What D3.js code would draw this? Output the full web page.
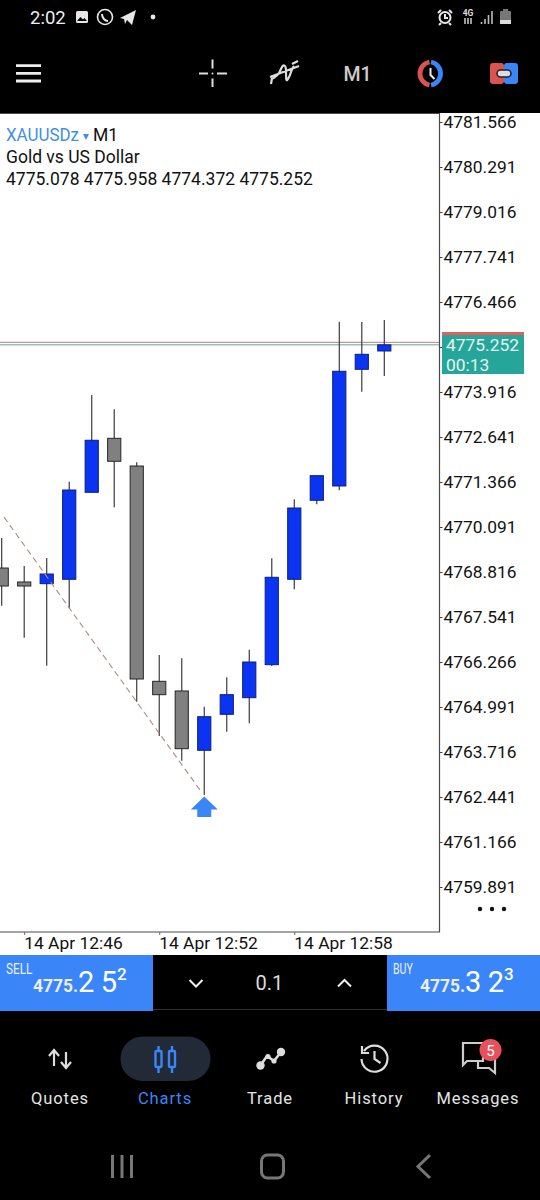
<!DOCTYPE html>
<html>
<head>
<meta charset="utf-8">
<script src="https://cdnjs.cloudflare.com/ajax/libs/d3/7.8.5/d3.min.js"></script>
<style>
  html, body { margin: 0; padding: 0; background: #000; overflow: hidden; }
  svg { display: block; }
  text { font-family: Roboto, sans-serif; }
</style>
</head>
<body>
<div id="chart"></div>
<script>
// candles, oldest first
var opens  = [4768.929, 4768.533, 4768.485, 4768.609, 4771.074, 4772.604, 4771.819, 4765.719, 4765.445, 4763.764, 4764.784, 4765.255, 4766.190, 4768.609, 4770.848, 4771.253, 4774.559, 4775.078];
var highs  = [4769.779, 4768.986, 4769.213, 4771.375, 4773.831, 4773.426, 4771.924, 4766.465, 4766.371, 4765.000, 4765.833, 4766.615, 4769.204, 4770.876, 4771.545, 4775.908, 4775.899, 4775.958];
var lows   = [4767.861, 4766.955, 4766.161, 4767.787, 4771.074, 4770.649, 4765.141, 4764.169, 4763.470, 4762.498, 4764.291, 4764.529, 4766.153, 4768.326, 4770.734, 4771.131, 4773.925, 4774.372];
var closes = [4768.419, 4768.419, 4768.759, 4771.139, 4772.548, 4771.953, 4765.784, 4765.340, 4763.810, 4764.716, 4765.340, 4766.266, 4768.666, 4770.629, 4771.545, 4774.503, 4774.984, 4775.252];

var priceTicks = [4781.566, 4780.291, 4779.016, 4777.741, 4776.466, 4775.191, 4773.916, 4772.641, 4771.366, 4770.091, 4768.816, 4767.541, 4766.266, 4764.991, 4763.716, 4762.441, 4761.166, 4759.891];
var timeTickIndex = [1, 7, 13];
var timeTickLabels = ["14 Apr 12:46", "14 Apr 12:52", "14 Apr 12:58"];

var bid = 4775.252;
var ask = 4775.323;
var trendIndex = [0.1, 8.9];
var trendPrice = [4770.374, 4762.56];
var arrowIndex = 9;

var BLUE = "#3a86f8";

var svg = d3.select("#chart").append("svg")
  .attr("width", 540)
  .attr("height", 1200)
  .style("background", "#000");

var xScale = d3.scaleLinear().domain([0, 17]).range([1.7, 384.3]);
var yScale = d3.scaleLinear().domain([4781.566, 4759.891]).range([122, 887]);

// chart pane
svg.append("rect").attr("x", 0).attr("y", 113).attr("width", 540).attr("height", 842).attr("fill", "#fff");
svg.append("path").attr("d", "M0,113.5H439.5V932H0").attr("fill", "none").attr("stroke", "#4a4a4a").attr("stroke-width", 1.2);

// axes
var yAxis = d3.axisRight(yScale)
  .tickValues(priceTicks)
  .tickFormat(d3.format(".3f"))
  .tickSize(3)
  .tickPadding(1);

var yAxisGroup = svg.append("g")
  .attr("transform", "translate(439.5,0)")
  .call(yAxis);
yAxisGroup.select(".domain").remove();
yAxisGroup.selectAll("text").style("font-size", "17.4px").attr("fill", "#111");
yAxisGroup.selectAll("line").attr("stroke", "#444");

var xAxis = d3.axisBottom(xScale)
  .tickValues(timeTickIndex)
  .tickFormat(function (d, i) { return timeTickLabels[i]; })
  .tickSize(3)
  .tickPadding(2);

var xAxisGroup = svg.append("g")
  .attr("transform", "translate(0,932)")
  .call(xAxis);
xAxisGroup.select(".domain").remove();
xAxisGroup.selectAll("text")
  .attr("text-anchor", "start")
  .attr("dx", -0.5)
  .style("font-size", "17.4px")
  .attr("fill", "#111");
xAxisGroup.selectAll("line").attr("stroke", "#666");

// bid and ask lines
svg.append("line")
  .attr("x1", 0).attr("x2", 439)
  .attr("y1", yScale(ask)).attr("y2", yScale(ask))
  .attr("stroke", "#b87f7b").attr("stroke-width", 1);
svg.append("line")
  .attr("x1", 0).attr("x2", 439)
  .attr("y1", yScale(bid)).attr("y2", yScale(bid))
  .attr("stroke", "#5fa39d").attr("stroke-width", 1);

// candles
var candles = opens.map(function (o, i) {
  return { i: i, open: o, high: highs[i], low: lows[i], close: closes[i] };
});

var candleGroup = svg.append("g");

candleGroup.selectAll("line.wick")
  .data(candles)
  .enter()
  .append("line")
  .attr("class", "wick")
  .attr("x1", function (d) { return xScale(d.i); })
  .attr("x2", function (d) { return xScale(d.i); })
  .attr("y1", function (d) { return yScale(d.high); })
  .attr("y2", function (d) { return yScale(d.low); })
  .attr("stroke", "#3c3c3c")
  .attr("stroke-width", 1.2);

candleGroup.selectAll("rect.body")
  .data(candles)
  .enter()
  .append("rect")
  .attr("class", "body")
  .attr("x", function (d) { return xScale(d.i) - 6.6; })
  .attr("width", 13.2)
  .attr("y", function (d) { return yScale(Math.max(d.open, d.close)); })
  .attr("height", function (d) { return Math.abs(yScale(d.open) - yScale(d.close)); })
  .attr("fill", function (d) { return d.close >= d.open ? "#0a33f2" : "#808080"; })
  .attr("stroke", function (d) { return d.close >= d.open ? "#0a1f80" : "#262626"; })
  .attr("stroke-width", 1);

// trend line
svg.append("line")
  .attr("x1", xScale(trendIndex[0])).attr("y1", yScale(trendPrice[0]))
  .attr("x2", xScale(trendIndex[1])).attr("y2", yScale(trendPrice[1]))
  .attr("stroke", "#b08a86")
  .attr("stroke-width", 1.1)
  .attr("stroke-dasharray", "6,4");

// buy arrow below the low of the marked candle
svg.append("path")
  .attr("transform", "translate(" + xScale(arrowIndex) + ",796.5)")
  .attr("d", "M0,0L13.5,13H7V20.5H-7V13H-13.5Z")
  .attr("fill", BLUE);

// price label
svg.append("rect").attr("x", 442).attr("y", 333).attr("width", 82).attr("height", 41).attr("fill", "#26a69a");
svg.append("rect").attr("x", 442).attr("y", 332).attr("width", 82).attr("height", 3).attr("fill", "#e0605c");
svg.append("text").attr("x", 446).attr("y", 351).attr("fill", "#e6f5f3").style("font-size", "17.4px").text(d3.format(".3f")(bid));
svg.append("text").attr("x", 446).attr("y", 371).attr("fill", "#e6f5f3").style("font-size", "17.4px").text("00:13");

// header text
svg.append("text").attr("x", 6).attr("y", 141).attr("fill", "#3f8fe6")
  .attr("textLength", 73).attr("lengthAdjust", "spacingAndGlyphs")
  .style("font-size", "17.5px").text("XAUUSDz");
svg.append("path").attr("d", "M83,134h6l-3,6z").attr("fill", "#3f8fe6");
svg.append("text").attr("x", 93).attr("y", 141).attr("fill", "#111").style("font-size", "17.5px").text("M1");
svg.append("text").attr("x", 6).attr("y", 163).attr("fill", "#111").style("font-size", "17.5px").text("Gold vs US Dollar");
svg.append("text").attr("x", 6).attr("y", 185).attr("fill", "#111").style("font-size", "17.5px")
  .text([opens[17], highs[17], lows[17], closes[17]].map(d3.format(".3f")).join(" "));

// more dots
svg.selectAll("circle.more")
  .data([480, 492, 504])
  .enter()
  .append("circle")
  .attr("class", "more")
  .attr("cx", function (d) { return d; })
  .attr("cy", 909)
  .attr("r", 2.2)
  .attr("fill", "#111");

// status bar
svg.append("text").attr("x", 30).attr("y", 24).attr("fill", "#eee").style("font-size", "18.5px").text("2:02");
var statusIcons = svg.append("g").attr("fill", "none").attr("stroke", "#e8e8e8").attr("stroke-width", 1.6);
statusIcons.append("rect").attr("x", 76).attr("y", 11).attr("width", 12).attr("height", 12).attr("rx", 1.5).attr("fill", "#e8e8e8").attr("stroke", "none");
statusIcons.append("path").attr("d", "M77,21l3.5,-4l2.5,2.5l1.5,-1.5l2.5,3z").attr("fill", "#000").attr("stroke", "none");
statusIcons.append("circle").attr("cx", 105).attr("cy", 17).attr("r", 7.5);
statusIcons.append("path").attr("d", "M102,14c0,4 3,7 6,7").attr("stroke-width", 2);
statusIcons.append("path").attr("d", "M120,18L136,10L132,25L127,20L125,24L124,19Z").attr("fill", "#e8e8e8").attr("stroke", "none");
statusIcons.append("circle").attr("cx", 153).attr("cy", 17).attr("r", 2.4).attr("fill", "#e8e8e8").attr("stroke", "none");
statusIcons.append("circle").attr("cx", 445).attr("cy", 17.5).attr("r", 5.5).attr("stroke-width", 2);
statusIcons.append("path").attr("d", "M445,14v4h3M438,13l3,-3M452,13l-3,-3M441,23l-2,2M449,23l2,2").attr("stroke-width", 2);
svg.append("text").attr("x", 468).attr("y", 16).attr("text-anchor", "middle").attr("fill", "#ddd").style("font-size", "8.5px").style("font-weight", "700").text("4G");
svg.append("path").attr("d", "M465,18v6M468,24v-6M471,18v6").attr("stroke", "#ddd").attr("stroke-width", 1.4);
svg.append("path").attr("d", "M481.5,24v-2M485,24v-5M488.5,24v-9M492,24v-13").attr("stroke", "#bbb").attr("stroke-width", 1.6);
svg.append("rect").attr("x", 500).attr("y", 11).attr("width", 11).attr("height", 13).attr("rx", 1).attr("fill", "#777");
svg.append("rect").attr("x", 500).attr("y", 20).attr("width", 11).attr("height", 4).attr("fill", "#ddd");
svg.append("rect").attr("x", 503).attr("y", 9).attr("width", 5).attr("height", 2).attr("fill", "#777");

// toolbar
svg.append("path").attr("d", "M16,65.7H41M16,73.3H41M16,81H41").attr("stroke", "#eee").attr("stroke-width", 2.8);
svg.append("path").attr("d", "M199,73.5H208M217,73.5H227M212.5,59.5V68.5M212.5,78.5V87").attr("stroke", "#ddd").attr("stroke-width", 2);
svg.append("circle").attr("cx", 212.5).attr("cy", 73.5).attr("r", 1).attr("fill", "#ddd");
svg.append("path").attr("d", "M271,79c6,-2 8,-5 10,-10c2,-5 5,-5 5,2c0,9 0,12 3,6c2,-3 2,-8 5,-11M271,84l1,-6M270,77L299,66M292,64l6,-3").attr("fill", "none").attr("stroke", "#ddd").attr("stroke-width", 2.2);
svg.append("text").attr("x", 357.5).attr("y", 80.5).attr("text-anchor", "middle").attr("fill", "#ccc").style("font-size", "19.5px").style("font-weight", "500").text("M1");
svg.append("path").attr("d", "M429.5,62A11.7,11.7 0 0 0 429.5,85").attr("fill", "none").attr("stroke", "#d9534f").attr("stroke-width", 4.8);
svg.append("path").attr("d", "M431,62A11.7,11.7 0 0 1 431,85").attr("fill", "none").attr("stroke", BLUE).attr("stroke-width", 4.8);
svg.append("path").attr("d", "M430.5,68V75L434.5,79").attr("fill", "none").attr("stroke", "#eee").attr("stroke-width", 2);
svg.append("rect").attr("x", 490).attr("y", 63).attr("width", 14).attr("height", 21).attr("rx", 3).attr("fill", "#d9534f");
svg.append("rect").attr("x", 504).attr("y", 63).attr("width", 14).attr("height", 21).attr("rx", 3).attr("fill", BLUE);
svg.append("rect").attr("x", 497).attr("y", 70).attr("width", 14).attr("height", 7).attr("rx", 3.5).attr("fill", "#ddd").attr("stroke", "#222").attr("stroke-width", 1.5);

// trade bar
svg.append("rect").attr("x", 0).attr("y", 955).attr("width", 153).attr("height", 56).attr("fill", BLUE);
svg.append("rect").attr("x", 387).attr("y", 955).attr("width", 153).attr("height", 56).attr("fill", BLUE);
svg.append("line").attr("x1", 153).attr("x2", 387).attr("y1", 1009.5).attr("y2", 1009.5).attr("stroke", "#333");
svg.append("path").attr("d", "M189.5,980L196,986.5L202.5,980M338,986.5L344.5,980L351,986.5").attr("fill", "none").attr("stroke", "#eee").attr("stroke-width", 2);
svg.append("text").attr("x", 269.5).attr("y", 990).attr("text-anchor", "middle").attr("fill", "#ddd").style("font-size", "20px").text("0.1");

function quote(x, label, big, small, sup) {
  svg.append("text").attr("x", x).attr("y", 974).attr("fill", "#eee")
    .attr("textLength", label.length * 6.6).attr("lengthAdjust", "spacingAndGlyphs")
    .style("font-size", "14px").text(label);
  svg.append("text").attr("x", x + 27).attr("y", 992).attr("fill", "#eee")
    .attr("textLength", 45).attr("lengthAdjust", "spacingAndGlyphs")
    .style("font-size", "17.5px").style("font-weight", "700").text(big);
  svg.append("text").attr("x", x + 72).attr("y", 992).attr("fill", "#fff")
    .attr("textLength", 39)
    .style("font-size", "29px").style("font-weight", "400").text(small);
  svg.append("text").attr("x", x + 111).attr("y", 980).attr("fill", "#fff")
    .style("font-size", "17px").style("font-weight", "500").text(sup);
}
quote(6, "SELL", "4775.", "25", "2");
quote(393, "BUY", "4775.", "32", "3");

// bottom tabs
svg.append("rect").attr("x", 120.5).attr("y", 1036.5).attr("width", 90).attr("height", 44.5).attr("rx", 22).attr("fill", "#212a36");

var tabNames = ["Quotes", "Charts", "Trade", "History", "Messages"];
var tabCenters = [60, 165, 270, 374, 478];
svg.selectAll("text.tab")
  .data(tabNames)
  .enter()
  .append("text")
  .attr("class", "tab")
  .attr("x", function (d, i) { return tabCenters[i]; })
  .attr("y", 1103.5)
  .attr("text-anchor", "middle")
  .attr("fill", function (d) { return d === "Charts" ? BLUE : "#e4e4e4"; })
  .style("font-size", "16.5px")
  .style("letter-spacing", "0.9px")
  .text(function (d) { return d; });

// tab icons
svg.append("path").attr("d", "M49,1056l5,-6l5,6M54,1050v16M66,1052v16M61,1062l5,6l5,-6").attr("fill", "none").attr("stroke", "#ddd").attr("stroke-width", 2.2);
svg.append("path").attr("d", "M158.5,1046v27M172,1046v27").attr("stroke", BLUE).attr("stroke-width", 2.4);
svg.append("rect").attr("x", 155.5).attr("y", 1051).attr("width", 6).attr("height", 16).attr("rx", 1).attr("fill", "#212a36").attr("stroke", BLUE).attr("stroke-width", 2.4);
svg.append("rect").attr("x", 169).attr("y", 1051).attr("width", 6).attr("height", 16).attr("rx", 1).attr("fill", "#212a36").attr("stroke", BLUE).attr("stroke-width", 2.4);
svg.append("path").attr("d", "M260,1066L267,1056L274,1061L281,1052").attr("fill", "none").attr("stroke", "#ddd").attr("stroke-width", 2.6);
svg.selectAll("circle.tradeDot")
  .data([[260.5, 1065.5, 4.2], [268, 1056.5, 2.6], [274, 1061, 2.6], [281, 1052, 4.2]])
  .enter()
  .append("circle")
  .attr("class", "tradeDot")
  .attr("cx", function (d) { return d[0]; })
  .attr("cy", function (d) { return d[1]; })
  .attr("r", function (d) { return d[2]; })
  .attr("fill", "#ddd");
svg.append("path").attr("d", "M364,1051A13,13 0 1 1 361.5,1059M362,1046v7h7M374.5,1051v8l6,4").attr("fill", "none").attr("stroke", "#ddd").attr("stroke-width", 2.2);
svg.append("path").attr("d", "M463,1043H483V1061H467L463,1065Z").attr("fill", "none").attr("stroke", "#ccc").attr("stroke-width", 2.2);
svg.append("path").attr("d", "M483,1056H495V1073L489,1068H478V1061").attr("fill", "none").attr("stroke", "#ccc").attr("stroke-width", 2.2);
svg.append("circle").attr("cx", 490.5).attr("cy", 1050).attr("r", 11).attr("fill", "#e8505b");
svg.append("text").attr("x", 490.5).attr("y", 1055.5).attr("text-anchor", "middle").attr("fill", "#fff").style("font-size", "15px").text("5");

// android nav
svg.append("path").attr("d", "M112.5,1155v23M122,1155v23M131.5,1155v23").attr("stroke", "#777").attr("stroke-width", 3);
svg.append("rect").attr("x", 261.5).attr("y", 1155).attr("width", 22).attr("height", 23).attr("rx", 6).attr("fill", "none").attr("stroke", "#777").attr("stroke-width", 3);
svg.append("path").attr("d", "M430,1155L418,1166.5L430,1178").attr("fill", "none").attr("stroke", "#777").attr("stroke-width", 3);
</script>
</body>
</html>
